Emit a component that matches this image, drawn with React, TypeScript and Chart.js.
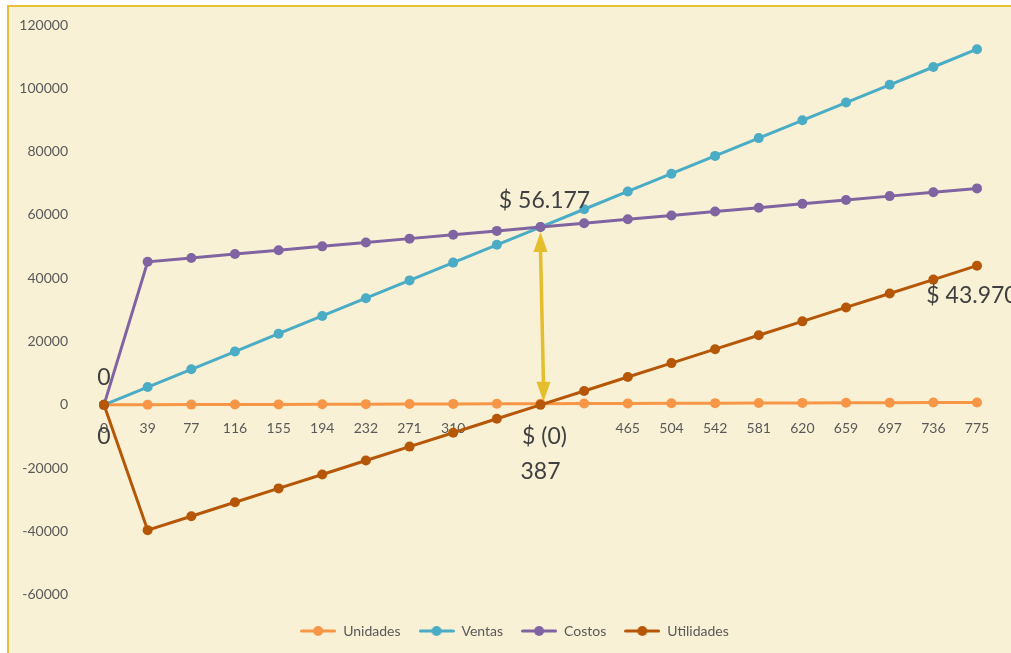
import React, { useEffect, useRef } from 'react';
import { Chart, registerables } from 'chart.js';

Chart.register(...registerables);

// ---- data ----
const categories = ['0', '39', '77', '116', '155', '194', '232', '271', '310', '', '', '', '465', '504', '542', '581', '620', '659', '697', '736', '775'];
const unidades = [0, 39, 77, 116, 155, 194, 232, 271, 310, 349, 387, 426, 465, 504, 542, 581, 620, 659, 697, 736, 775];
const ventas = [0, 5618, 11235, 16853, 22471, 28089, 33706, 39324, 44942, 50559, 56177, 61795, 67412, 73030, 78648, 84266, 89883, 95501, 101119, 106736, 112354];
const costos = [0, 45191, 46411, 47632, 48853, 50074, 51294, 52515, 53736, 54956, 56177, 57398, 58618, 59839, 61060, 62281, 63501, 64722, 65943, 67163, 68384];
const utilidades = [0, -39573, -35176, -30779, -26382, -21985, -17588, -13191, -8794, -4397, -0.3, 4397, 8794, 13191, 17588, 21985, 26382, 30779, 35176, 39573, 43970];
const seriesNames = ['Unidades', 'Ventas', 'Costos', 'Utilidades'];
const yMin = -60000;
const yMax = 120000;
const yStep = 20000;
const breakEvenIndex = 10;
const lastIndex = 20;

const COLORS = ['#F79646', '#4BACC6', '#8064A2', '#B65708'];
const FONT = 'Lato, "Open Sans", sans-serif';
const TEXT = '#595959';
const LABEL = '#404040';

function money(v: number): string {
  const r = Math.round(Math.abs(v));
  const s = String(r).replace(/\B(?=(\d{3})+(?!\d))/g, '.');
  return v < 0 ? '$ (' + s + ')' : '$ ' + s;
}

function legendImage(color: string): HTMLCanvasElement {
  const c = document.createElement('canvas');
  c.width = 36;
  c.height = 12;
  const g = c.getContext('2d')!;
  g.strokeStyle = color;
  g.lineWidth = 3;
  g.lineCap = 'round';
  g.beginPath();
  g.moveTo(1.5, 6);
  g.lineTo(34.5, 6);
  g.stroke();
  g.fillStyle = color;
  g.beginPath();
  g.arc(18, 6, 5, 0, Math.PI * 2);
  g.fill();
  return c;
}

const legendShift = {
  id: 'legendShift',
  afterLayout(chart: any) {
    const lg = chart.legend;
    if (lg) {
      lg.left += 26;
      lg.right += 26;
    }
  },
};

const annotPlugin = {
  id: 'annot',
  beforeDatasetsDraw(chart: any) {
    const { ctx } = chart;
    const xs = chart.scales.x;
    const ys = chart.scales.y;
    const x = xs.getPixelForValue(breakEvenIndex);
    const yTop = ys.getPixelForValue(costos[breakEvenIndex]) + 5;
    const yBot = ys.getPixelForValue(utilidades[breakEvenIndex]) - 3;
    const xTop = x;
    const xBot = x + 3;
    const color = '#E4BE2C';
    const head = 20;
    const hw = 7;
    ctx.save();
    ctx.strokeStyle = color;
    ctx.fillStyle = color;
    ctx.lineWidth = 3.5;
    ctx.beginPath();
    ctx.moveTo(xTop, yTop + head - 2);
    ctx.lineTo(xBot, yBot - head + 2);
    ctx.stroke();
    ctx.beginPath();
    ctx.moveTo(xTop, yTop);
    ctx.lineTo(xTop - hw, yTop + head);
    ctx.lineTo(xTop + hw, yTop + head);
    ctx.closePath();
    ctx.fill();
    ctx.beginPath();
    ctx.moveTo(xBot, yBot);
    ctx.lineTo(xBot - hw, yBot - head);
    ctx.lineTo(xBot + hw, yBot - head);
    ctx.closePath();
    ctx.fill();
    ctx.restore();
  },
  afterDatasetsDraw(chart: any) {
    const { ctx } = chart;
    const xs = chart.scales.x;
    const ys = chart.scales.y;
    const px = (i: number) => xs.getPixelForValue(i);
    const py = (v: number) => ys.getPixelForValue(v);
    ctx.save();
    ctx.font = '23px ' + FONT;
    ctx.fillStyle = LABEL;
    ctx.textAlign = 'center';
    ctx.textBaseline = 'middle';
    ctx.fillText(String(costos[0]), px(0), py(costos[0]) - 27);
    ctx.fillText(String(utilidades[0]), px(0), py(utilidades[0]) + 32);
    ctx.fillText(money(costos[breakEvenIndex]), px(breakEvenIndex) + 4, py(costos[breakEvenIndex]) - 26);
    ctx.fillText(money(utilidades[breakEvenIndex]), px(breakEvenIndex) + 4, py(utilidades[breakEvenIndex]) + 32);
    ctx.fillText(String(unidades[breakEvenIndex]), px(breakEvenIndex), py(utilidades[breakEvenIndex]) + 67);
    ctx.fillText(money(utilidades[lastIndex]), px(lastIndex) - 5, py(utilidades[lastIndex]) + 30);
    ctx.restore();
  },
};

export default function App() {
  const ref = useRef<HTMLCanvasElement | null>(null);

  useEffect(() => {
    if (!ref.current) return;
    const series = [unidades, ventas, costos, utilidades];
    const chart = new Chart(ref.current, {
      type: 'line',
      data: {
        labels: categories,
        datasets: series.map((d, i) => ({
          label: seriesNames[i],
          data: d,
          borderColor: COLORS[i],
          backgroundColor: COLORS[i],
          pointBackgroundColor: COLORS[i],
          pointBorderColor: COLORS[i],
          pointRadius: 5,
          pointBorderWidth: 0,
          borderWidth: 3,
          tension: 0,
          fill: false,
          order: 4 - i,
        })),
      },
      options: {
        animation: false,
        responsive: false,
        maintainAspectRatio: false,
        events: [],
        layout: { padding: { left: 0, right: 34, top: 25, bottom: 5 } },
        scales: {
          x: {
            type: 'category',
            position: { y: 0 } as any,
            offset: false,
            grid: { display: false, drawTicks: false },
            border: { display: false },
            ticks: {
              autoSkip: false,
              maxRotation: 0,
              minRotation: 0,
              padding: 15,
              color: TEXT,
              font: { family: FONT, size: 14 },
            },
            afterFit: (s: any) => {
              s.height = 0;
            },
          },
          y: {
            min: yMin,
            max: yMax,
            grid: { display: false, drawTicks: false },
            border: { display: false },
            ticks: {
              stepSize: yStep,
              padding: 36,
              color: TEXT,
              font: { family: FONT, size: 14 },
              callback: (v: any) => String(v),
            },
            afterFit: (s: any) => {
              s.width = 104;
              s.paddingTop = 8;
              s.paddingBottom = 8;
            },
          },
        },
        plugins: {
          tooltip: { enabled: false },
          legend: {
            display: true,
            position: 'bottom',
            title: { display: true, text: '', font: { size: 1 }, padding: { top: 0, bottom: 10 } },
            labels: {
              usePointStyle: true,
              pointStyleWidth: 36,
              padding: 18,
              color: TEXT,
              font: { family: FONT, size: 14 },
              sort: (a: any, b: any) => a.datasetIndex - b.datasetIndex,
              generateLabels: (c: any) => {
                const items = Chart.defaults.plugins.legend.labels.generateLabels(c);
                return items.map((it: any) => ({
                  ...it,
                  pointStyle: legendImage(COLORS[it.datasetIndex]),
                }));
              },
            },
          },
        },
      },
      plugins: [legendShift, annotPlugin],
    });
    return () => chart.destroy();
  }, []);

  return (
    <div style={{ position: 'fixed', left: 0, top: 0, width: 1011, height: 653, overflow: 'hidden' }}>
      <div
        style={{
          position: 'absolute',
          left: 7,
          top: 5,
          width: 1100,
          height: 700,
          background: '#F8F1D5',
          borderLeft: '2px solid #E6C03A',
          borderTop: '2px solid #E6C03A',
        }}
      />
      <canvas ref={ref} width={1011} height={653} style={{ position: 'absolute', left: 0, top: 0, width: 1011, height: 653 }} />
    </div>
  );
}
